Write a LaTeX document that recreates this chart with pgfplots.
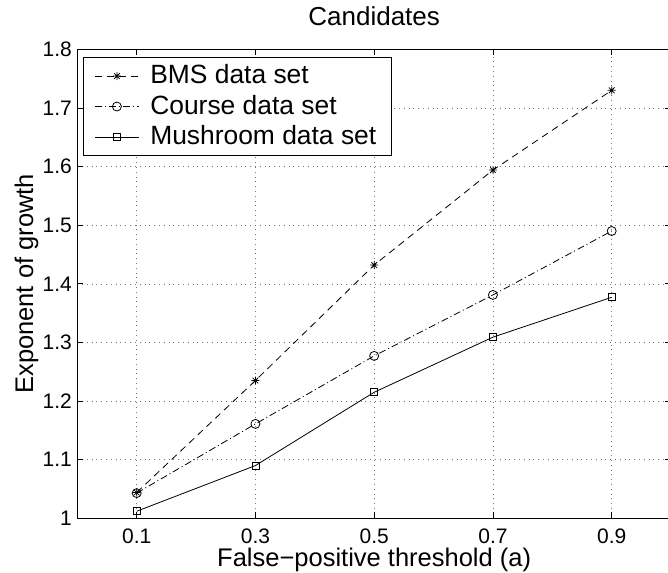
\documentclass[border=0pt]{standalone}
\usepackage{fontspec}
\setmainfont{Liberation Sans}
\usepackage{pgfplots}
\pgfplotsset{compat=1.18}

% MATLAB-style '*' marker: plus and cross together
\pgfdeclareplotmark{mstar}{%
  \pgfpathmoveto{\pgfqpoint{-\pgfplotmarksize}{0pt}}\pgfpathlineto{\pgfqpoint{\pgfplotmarksize}{0pt}}%
  \pgfpathmoveto{\pgfqpoint{0pt}{-\pgfplotmarksize}}\pgfpathlineto{\pgfqpoint{0pt}{\pgfplotmarksize}}%
  \pgfpathmoveto{\pgfqpoint{-.707\pgfplotmarksize}{-.707\pgfplotmarksize}}\pgfpathlineto{\pgfqpoint{.707\pgfplotmarksize}{.707\pgfplotmarksize}}%
  \pgfpathmoveto{\pgfqpoint{-.707\pgfplotmarksize}{.707\pgfplotmarksize}}\pgfpathlineto{\pgfqpoint{.707\pgfplotmarksize}{-.707\pgfplotmarksize}}%
  \pgfusepathqstroke}

\begin{document}
\begin{tikzpicture}
\begin{axis}[
    at={(0,0)}, anchor=south west,
    scale only axis,
    width=593.75pt, height=469pt,
    xmin=0, xmax=1,
    ymin=1, ymax=1.8,
    xtick={0.1,0.3,0.5,0.7,0.9},
    ytick={1,1.1,1.2,1.3,1.4,1.5,1.6,1.7,1.8},
    tick align=inside,
    major tick length=6pt,
    tick style={black, line width=0.8pt},
    axis line style={line width=1pt},
    grid=major,
    grid style={black!55, line width=0.6pt, dash pattern=on 0.8pt off 4pt},
    /pgf/number format/assume math mode=true,
    ticklabel style={font=\fontsize{21}{24}\selectfont},
    xticklabel style={anchor=base, inner sep=0pt, yshift=-25.5pt},
    yticklabel style={anchor=east, inner sep=0pt, xshift=-5.3pt},
    xlabel={False−positive threshold (a)},
    ylabel={Exponent of growth},
    label style={font=\fontsize{25.5}{30}\selectfont, inner sep=0pt},
    xlabel style={at={(axis description cs:0.5,0)}, anchor=base, yshift=-48.2pt},
    ylabel style={at={(axis description cs:-0.0746,0.5)}, anchor=base},
    title={Candidates},
    title style={font=\fontsize{26}{30}\selectfont, inner sep=0pt,
        at={(axis description cs:0.5,1)}, anchor=base, yshift=17.6pt},
    legend image code/.code={\draw[mark repeat=2,mark phase=2,#1] plot coordinates {(0pt,0pt) (22pt,0pt) (44pt,0pt)};},
    legend cell align=left,
    legend style={at={(0,1)}, anchor=north west, xshift=5.7pt, yshift=-8pt,
        draw=black, line width=1pt, font=\fontsize{26.4}{30}\selectfont,
        inner xsep=11pt, inner ysep=3pt, column sep=7pt,
        nodes={text height=20pt, text depth=5pt, inner xsep=4pt, inner ysep=2.75pt}},
]
\addplot[black, line width=0.8pt, dash pattern=on 7pt off 5pt, mark=mstar, mark size=4pt, mark options={solid}]
coordinates {(0.1,1.044) (0.3,1.235) (0.5,1.432) (0.7,1.594) (0.9,1.730)};
\addplot[black, line width=0.8pt, dash pattern=on 7pt off 3pt on 1pt off 3pt, mark=o, mark size=4.5pt, mark options={solid}]
coordinates {(0.1,1.043) (0.3,1.161) (0.5,1.277) (0.7,1.381) (0.9,1.490)};
\addplot[black, line width=0.8pt, mark=square, mark size=3.5pt, mark options={solid}]
coordinates {(0.1,1.012) (0.3,1.090) (0.5,1.215) (0.7,1.309) (0.9,1.377)};
\legend{BMS data set, Course data set, Mushroom data set}
\end{axis}
\pgfresetboundingbox
\path[use as bounding box] (-77.3pt,-53.7pt) rectangle (590.7pt,518.3pt);
\end{tikzpicture}
\end{document}
